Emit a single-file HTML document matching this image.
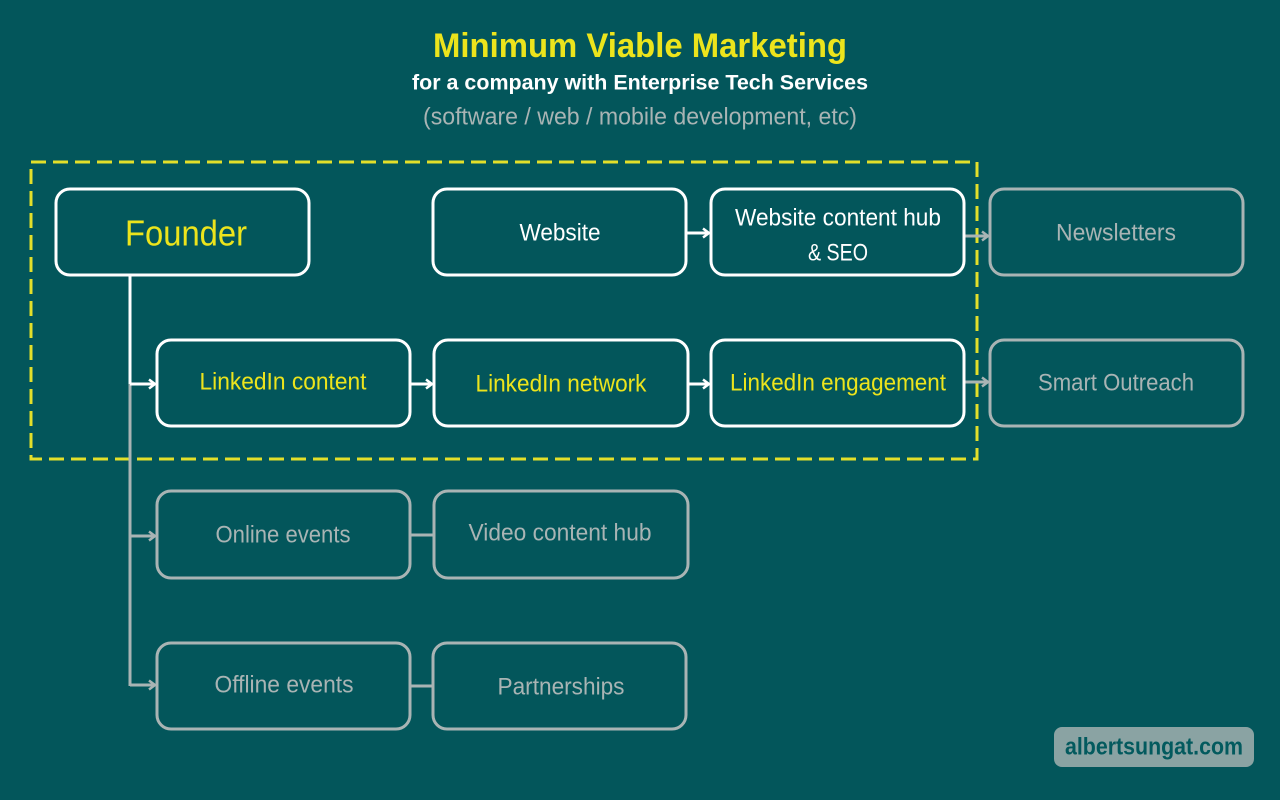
<!DOCTYPE html>
<html><head><meta charset="utf-8"><style>
html,body{margin:0;padding:0;background:#03565b;}
svg{display:block}
text{font-family:"Liberation Sans",sans-serif;text-anchor:middle;dominant-baseline:central}
</style></head><body>
<svg width="1280" height="800" viewBox="0 0 1280 800">
<defs>
<marker id="aw" markerWidth="12" markerHeight="12" refX="9" refY="6" orient="auto" markerUnits="userSpaceOnUse"><path d="M3,1.5 L9,6 L3,10.5" fill="none" stroke="#fff" stroke-width="2.5"/></marker>
<marker id="ag" markerWidth="12" markerHeight="12" refX="9" refY="6" orient="auto" markerUnits="userSpaceOnUse"><path d="M3,1.5 L9,6 L3,10.5" fill="none" stroke="#a9b4b4" stroke-width="2.5"/></marker>
</defs>
<rect width="1280" height="800" fill="#03565b"/>
<g lengthAdjust="spacingAndGlyphs">
<text x="640" y="46" fill="#ece41c" font-weight="bold" font-size="34" textLength="414" lengthAdjust="spacingAndGlyphs">Minimum Viable Marketing</text>
<text x="640" y="83" fill="#fff" font-weight="bold" font-size="21" textLength="456" lengthAdjust="spacingAndGlyphs">for a company with Enterprise Tech Services</text>
<text x="640" y="117" fill="#a9b4b4" font-size="24" textLength="434" lengthAdjust="spacingAndGlyphs">(software / web / mobile development, etc)</text>
</g>

<rect x="31" y="162" width="946" height="297" fill="none" stroke="#e3df2a" stroke-width="3" stroke-dasharray="15,7"/>

<line x1="130" y1="275" x2="130" y2="384" stroke="#fff" stroke-width="3"/>
<line x1="130" y1="384" x2="130" y2="686" stroke="#a9b4b4" stroke-width="3"/>
<line x1="130" y1="384" x2="155" y2="384" stroke="#fff" stroke-width="3" marker-end="url(#aw)"/>
<line x1="130" y1="536" x2="155" y2="536" stroke="#a9b4b4" stroke-width="3" marker-end="url(#ag)"/>
<line x1="130" y1="685" x2="155" y2="685" stroke="#a9b4b4" stroke-width="3" marker-end="url(#ag)"/>
<line x1="686" y1="233" x2="709" y2="233" stroke="#fff" stroke-width="3" marker-end="url(#aw)"/>
<line x1="410" y1="384" x2="432" y2="384" stroke="#fff" stroke-width="3" marker-end="url(#aw)"/>
<line x1="688" y1="384" x2="709" y2="384" stroke="#fff" stroke-width="3" marker-end="url(#aw)"/>
<line x1="964" y1="236" x2="988" y2="236" stroke="#a9b4b4" stroke-width="3" marker-end="url(#ag)"/>
<line x1="964" y1="382" x2="988" y2="382" stroke="#a9b4b4" stroke-width="3" marker-end="url(#ag)"/>
<line x1="410" y1="535" x2="434" y2="535" stroke="#a9b4b4" stroke-width="3"/>
<line x1="410" y1="686" x2="433" y2="686" stroke="#a9b4b4" stroke-width="3"/>

<g fill="none" stroke-width="3">
<rect x="56" y="189" width="253" height="86" rx="14" stroke="#fff"/>
<rect x="433" y="189" width="253" height="86" rx="14" stroke="#fff"/>
<rect x="711" y="189" width="253" height="86" rx="14" stroke="#fff"/>
<rect x="990" y="189" width="253" height="86" rx="14" stroke="#a9b4b4"/>
<rect x="157" y="340" width="253" height="86" rx="14" stroke="#fff"/>
<rect x="434" y="340" width="254" height="86" rx="14" stroke="#fff"/>
<rect x="711" y="340" width="253" height="86" rx="14" stroke="#fff"/>
<rect x="990" y="340" width="253" height="86" rx="14" stroke="#a9b4b4"/>
<rect x="157" y="491" width="253" height="87" rx="14" stroke="#a9b4b4"/>
<rect x="434" y="491" width="254" height="87" rx="14" stroke="#a9b4b4"/>
<rect x="157" y="643" width="253" height="86" rx="14" stroke="#a9b4b4"/>
<rect x="433" y="643" width="253" height="86" rx="14" stroke="#a9b4b4"/>
</g>

<text x="186" y="233" fill="#ece41c" font-size="36" textLength="122" lengthAdjust="spacingAndGlyphs">Founder</text>
<text x="560" y="233" fill="#fff" font-size="24" textLength="81" lengthAdjust="spacingAndGlyphs">Website</text>
<text x="838" y="218" fill="#fff" font-size="24" textLength="206" lengthAdjust="spacingAndGlyphs">Website content hub</text>
<text x="838" y="253" fill="#fff" font-size="24" textLength="60" lengthAdjust="spacingAndGlyphs">&amp; SEO</text>
<text x="1116" y="233" fill="#a9b4b4" font-size="24" textLength="120" lengthAdjust="spacingAndGlyphs">Newsletters</text>
<text x="283" y="382" fill="#ece41c" font-size="24" textLength="167" lengthAdjust="spacingAndGlyphs">LinkedIn content</text>
<text x="561" y="384" fill="#ece41c" font-size="24" textLength="171" lengthAdjust="spacingAndGlyphs">LinkedIn network</text>
<text x="838" y="383" fill="#ece41c" font-size="24" textLength="216" lengthAdjust="spacingAndGlyphs">LinkedIn engagement</text>
<text x="1116" y="383" fill="#a9b4b4" font-size="24" textLength="156" lengthAdjust="spacingAndGlyphs">Smart Outreach</text>
<text x="283" y="535" fill="#a9b4b4" font-size="24" textLength="135" lengthAdjust="spacingAndGlyphs">Online events</text>
<text x="560" y="533" fill="#a9b4b4" font-size="24" textLength="183" lengthAdjust="spacingAndGlyphs">Video content hub</text>
<text x="284" y="685" fill="#a9b4b4" font-size="24" textLength="139" lengthAdjust="spacingAndGlyphs">Offline events</text>
<text x="561" y="687" fill="#a9b4b4" font-size="24" textLength="127" lengthAdjust="spacingAndGlyphs">Partnerships</text>

<rect x="1054" y="727" width="200" height="40" rx="8" fill="#8aa3a3"/>
<text x="1154" y="747" fill="#035a5e" font-weight="bold" font-size="24" textLength="178" lengthAdjust="spacingAndGlyphs">albertsungat.com</text>
</svg>
</body></html>
